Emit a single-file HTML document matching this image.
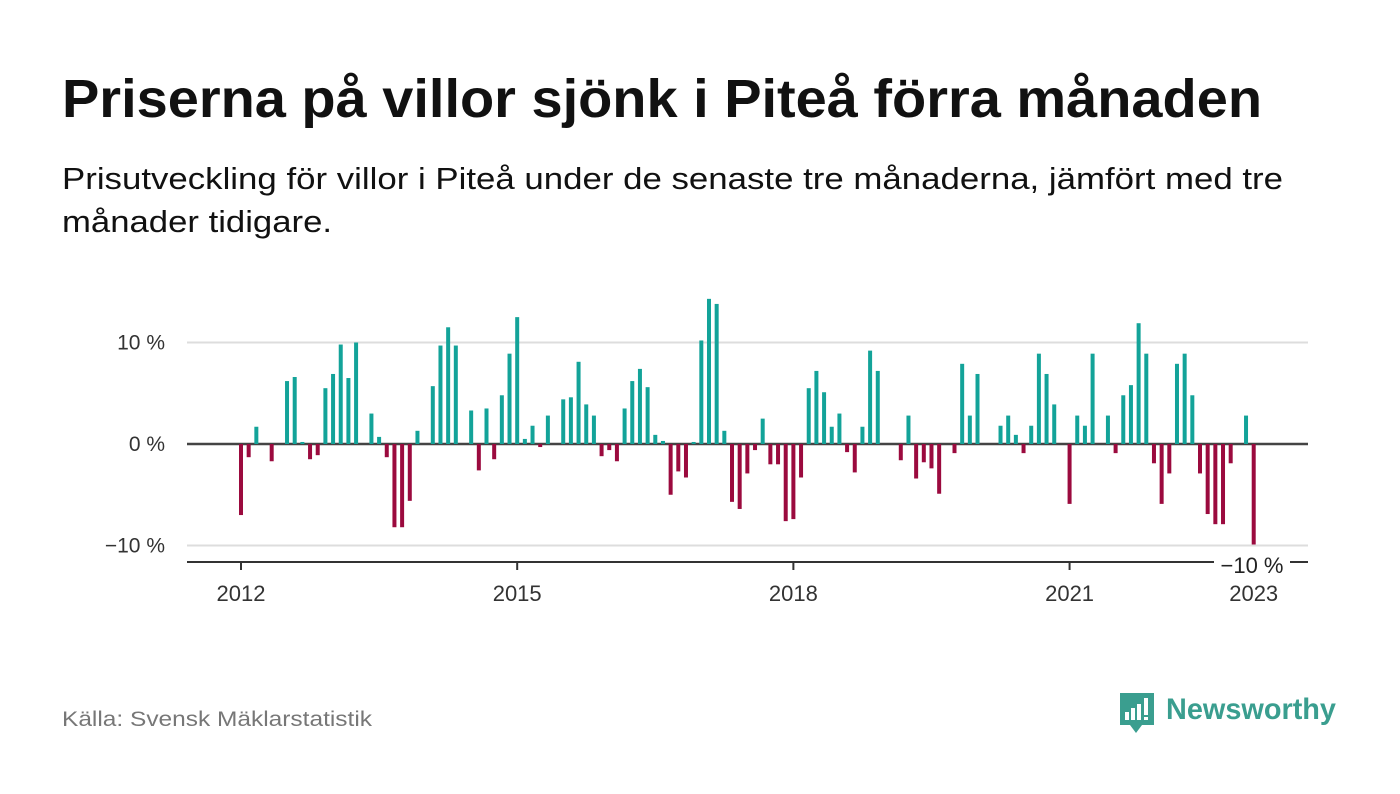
<!DOCTYPE html>
<html><head><meta charset="utf-8"><style>
html,body{margin:0;padding:0;background:#fff;}
svg{display:block;font-family:"Liberation Sans",sans-serif;}
</style></head><body>
<svg id="chart" width="1400" height="794" viewBox="0 0 1400 794" xmlns="http://www.w3.org/2000/svg">
<text x="62" y="117" font-size="54" font-weight="bold" fill="#111" textLength="1200" lengthAdjust="spacingAndGlyphs">Priserna på villor sjönk i Piteå förra månaden</text>
<text x="62" y="189" font-size="31" fill="#111" textLength="1221" lengthAdjust="spacingAndGlyphs">Prisutveckling för villor i Piteå under de senaste tre månaderna, jämfört med tre</text>
<text x="62" y="232" font-size="31" fill="#111" textLength="270" lengthAdjust="spacingAndGlyphs">månader tidigare.</text>
<g id="grid"></g>
<g id="bars"></g>
<g id="axes"></g>
<text x="62" y="726" font-size="21" fill="#777" textLength="310" lengthAdjust="spacingAndGlyphs">Källa: Svensk Mäklarstatistik</text>
<g>
<path d="M1120 693 h34 v32 h-12 l-6 8 l-6 -8 h-10 z" fill="#3a9e8f"/>
<rect x="1125" y="712" width="4" height="8" fill="#fff"/>
<rect x="1131" y="708" width="4" height="12" fill="#fff"/>
<rect x="1137" y="704" width="4" height="16" fill="#fff"/>
<rect x="1144" y="698" width="4" height="17" fill="#fff"/>
<rect x="1144" y="717" width="4" height="3" fill="#fff"/>
<text x="1166" y="719" font-size="30" font-weight="bold" fill="#3a9e8f" textLength="170" lengthAdjust="spacingAndGlyphs">Newsworthy</text>
</g>
</svg>
<script>
const values = [-7.0,-1.3,1.7,0,-1.7,0,6.2,6.6,0.2,-1.5,-1.1,5.5,6.9,9.8,6.5,10.0,0,3.0,0.7,-1.3,-8.2,-8.2,-5.6,1.3,0,5.7,9.7,11.5,9.7,0,3.3,-2.6,3.5,-1.5,4.8,8.9,12.5,0.5,1.8,-0.3,2.8,0,4.4,4.6,8.1,3.9,2.8,-1.2,-0.6,-1.7,3.5,6.2,7.4,5.6,0.9,0.3,-5.0,-2.7,-3.3,0.2,10.2,14.3,13.8,1.3,-5.7,-6.4,-2.9,-0.6,2.5,-2.0,-2.0,-7.6,-7.4,-3.3,5.5,7.2,5.1,1.7,3.0,-0.8,-2.8,1.7,9.2,7.2,0,0,-1.6,2.8,-3.4,-1.8,-2.4,-4.9,0,-0.9,7.9,2.8,6.9,0,0,1.8,2.8,0.9,-0.9,1.8,8.9,6.9,3.9,0,-5.9,2.8,1.8,8.9,0,2.8,-0.9,4.8,5.8,11.9,8.9,-1.9,-5.9,-2.9,7.9,8.9,4.8,-2.9,-6.9,-7.9,-7.9,-1.9,0,2.8,-9.9];
const startYear = 2012;
const yTicks = [10, 0, -10];
const yTickLabels = ["10 %", "0 %", "\u221210 %"];
const xTickYears = [2012, 2015, 2018, 2021, 2023];

const NS = "http://www.w3.org/2000/svg";
const x0 = 241, monthW = 7.672;
const yZero = 444, pxPer = 10.15;
function xScale(i){ return x0 + i*monthW; }
function yScale(v){ return yZero - v*pxPer; }
function mk(tag, attrs, parent){ const e=document.createElementNS(NS,tag); for(const k in attrs) e.setAttribute(k,attrs[k]); parent.appendChild(e); return e; }

const grid = document.getElementById('grid'), bars = document.getElementById('bars'), axes = document.getElementById('axes');
yTicks.forEach((t,k)=>{
  const y = yScale(t);
  const l = mk('line',{x1:187,x2:1308,y1:y,y2:y,stroke:t===0?'#444':'#ddd','stroke-width':t===0?2.5:2},grid);
  
  
  const tx = mk('text',{x:165,y:y+7,'text-anchor':'end','font-size':21,fill:'#333'},axes);
  tx.textContent = yTickLabels[k];
  
  
});
values.forEach((v,i)=>{
  if(v===0) return;
  const x = xScale(i);
  const r = mk('rect',{x:x-2,width:4,y:v>0?yScale(v):yZero,height:Math.abs(v)*pxPer,fill:v>0?'#13a399':'#9b0a3e'},bars);
  
  
});
const ax = mk('line',{x1:187,x2:1308,y1:562,y2:562,stroke:'#333','stroke-width':2},axes);


xTickYears.forEach(yr=>{
  const x = xScale((yr-startYear)*12);
  const tk = mk('line',{x1:x,x2:x,y1:562,y2:570,stroke:'#333','stroke-width':2},axes);
  
  
  const tx = mk('text',{x:x,y:601,'text-anchor':'middle','font-size':22,fill:'#333'},axes);
  tx.textContent = yr;
  
  
});
const bg = mk('rect',{x:1214,y:552,width:76,height:24,fill:'#fff'},axes);


const ol = mk('text',{x:1252,y:573,'text-anchor':'middle','font-size':22,fill:'#222'},axes);
ol.textContent = "\u221210 %";


</script>
</body></html>
